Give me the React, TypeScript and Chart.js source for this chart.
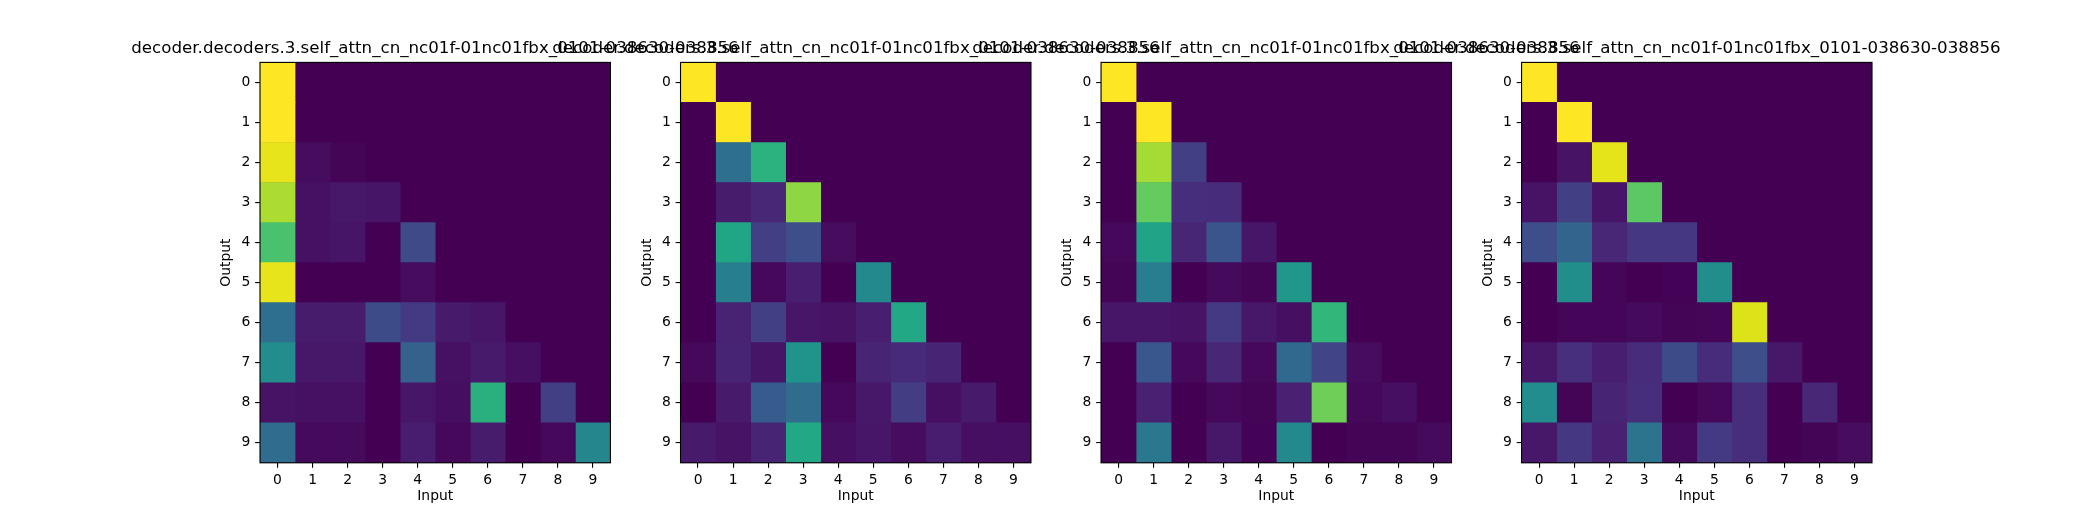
import React, { useEffect, useRef } from "react";
import { Chart, registerables } from "chart.js";

Chart.register(...registerables);

// ---------------- data ----------------
const inputLabels = ["0", "1", "2", "3", "4", "5", "6", "7", "8", "9"];
const outputLabels = ["0", "1", "2", "3", "4", "5", "6", "7", "8", "9"];
const panelTitle = "decoder.decoders.3.self_attn_cn_nc01f-01nc01fbx_0101-038630-038856";
const panelTitles = [panelTitle, panelTitle, panelTitle, panelTitle];

const attn0 = [
  [1.0, 0, 0, 0, 0, 0, 0, 0, 0, 0],
  [1.0, 0, 0, 0, 0, 0, 0, 0, 0, 0],
  [0.965, 0.03, 0.01, 0, 0, 0, 0, 0, 0, 0],
  [0.875, 0.045, 0.065, 0.055, 0, 0, 0, 0, 0, 0],
  [0.71, 0.045, 0.055, 0.0, 0.22, 0, 0, 0, 0, 0],
  [0.965, 0.0, 0.0, 0.0, 0.03, 0, 0, 0, 0, 0],
  [0.36, 0.075, 0.075, 0.225, 0.17, 0.07, 0.06, 0, 0, 0],
  [0.48, 0.065, 0.065, 0.0, 0.31, 0.045, 0.07, 0.04, 0, 0],
  [0.05, 0.045, 0.045, 0.0, 0.06, 0.035, 0.63, 0.0, 0.185, 0.0],
  [0.35, 0.025, 0.025, 0.0, 0.08, 0.02, 0.075, 0.0, 0.02, 0.46],
];
const attn1 = [
  [1.0, 0, 0, 0, 0, 0, 0, 0, 0, 0],
  [0, 1.0, 0, 0, 0, 0, 0, 0, 0, 0],
  [0, 0.36, 0.64, 0, 0, 0, 0, 0, 0, 0],
  [0, 0.075, 0.11, 0.83, 0, 0, 0, 0, 0, 0],
  [0, 0.59, 0.185, 0.24, 0.03, 0, 0, 0, 0, 0],
  [0, 0.43, 0.02, 0.085, 0.0, 0.47, 0, 0, 0, 0],
  [0, 0.095, 0.185, 0.06, 0.05, 0.085, 0.6, 0, 0, 0],
  [0.02, 0.1, 0.055, 0.51, 0.0, 0.1, 0.12, 0.1, 0, 0],
  [0.0, 0.07, 0.29, 0.35, 0.02, 0.065, 0.18, 0.04, 0.07, 0.0],
  [0.07, 0.05, 0.1, 0.6, 0.04, 0.06, 0.03, 0.08, 0.04, 0.04],
];
const attn2 = [
  [1.0, 0, 0, 0, 0, 0, 0, 0, 0, 0],
  [0, 1.0, 0, 0, 0, 0, 0, 0, 0, 0],
  [0, 0.865, 0.185, 0, 0, 0, 0, 0, 0, 0],
  [0, 0.76, 0.13, 0.125, 0, 0, 0, 0, 0, 0],
  [0.02, 0.58, 0.105, 0.26, 0.06, 0, 0, 0, 0, 0],
  [0.01, 0.42, 0.0, 0.025, 0.01, 0.53, 0, 0, 0, 0],
  [0.06, 0.06, 0.05, 0.17, 0.065, 0.04, 0.66, 0, 0, 0],
  [0.0, 0.27, 0.02, 0.11, 0.02, 0.34, 0.2, 0.03, 0, 0],
  [0.0, 0.09, 0.0, 0.02, 0.01, 0.09, 0.78, 0.02, 0.04, 0.0],
  [0.0, 0.4, 0.0, 0.065, 0.005, 0.47, 0.0, 0.01, 0.01, 0.025],
];
const attn3 = [
  [1.0, 0, 0, 0, 0, 0, 0, 0, 0, 0],
  [0, 1.0, 0, 0, 0, 0, 0, 0, 0, 0],
  [0, 0.05, 0.96, 0, 0, 0, 0, 0, 0, 0],
  [0.05, 0.185, 0.055, 0.745, 0, 0, 0, 0, 0, 0],
  [0.235, 0.32, 0.11, 0.16, 0.16, 0, 0, 0, 0, 0],
  [0.0, 0.49, 0.015, 0.0, 0.005, 0.49, 0, 0, 0, 0],
  [0.0, 0.015, 0.015, 0.025, 0.01, 0.015, 0.945, 0, 0, 0],
  [0.065, 0.135, 0.085, 0.125, 0.225, 0.125, 0.24, 0.065, 0, 0],
  [0.48, 0.01, 0.1, 0.13, 0.0, 0.02, 0.13, 0.0, 0.11, 0.0],
  [0.065, 0.16, 0.09, 0.38, 0.025, 0.17, 0.13, 0.0, 0.01, 0.03],
];
const panels = [attn0, attn1, attn2, attn3];

// ---------------- colormap (viridis) ----------------
const VIRIDIS = [
  "#440154", "#471365", "#482475", "#463480", "#414487", "#3b528b", "#355f8d",
  "#2f6c8e", "#2a788e", "#25848e", "#21918c", "#1e9c89", "#22a884", "#2fb47c",
  "#44bf70", "#5ec962", "#7ad151", "#9bd93c", "#bddf26", "#dfe318", "#fde725",
];
const hexToRgb = (h: string) => [
  parseInt(h.slice(1, 3), 16),
  parseInt(h.slice(3, 5), 16),
  parseInt(h.slice(5, 7), 16),
];
const VIR_RGB = VIRIDIS.map(hexToRgb);
function viridis(t: number): string {
  const c = Math.max(0, Math.min(1, t)) * (VIR_RGB.length - 1);
  const i = Math.min(Math.floor(c), VIR_RGB.length - 2);
  const f = c - i;
  const a = VIR_RGB[i];
  const b = VIR_RGB[i + 1];
  const m = (k: number) => Math.round(a[k] + (b[k] - a[k]) * f);
  return `rgb(${m(0)},${m(1)},${m(2)})`;
}

// ---------------- layout (matplotlib-like figure geometry) ----------------
const FIG_W = 2080;
const FIG_H = 520;
const PT = 100 / 72;
const AX_LEFT0 = FIG_W * 0.125;
const AX_RIGHT_END = FIG_W * 0.9;
const AX_W = (AX_RIGHT_END - AX_LEFT0) / (4 + 3 * 0.2);
const AX_STEP = AX_W * 1.2;
const AX_TOP = FIG_H * (1 - 0.88);
const AX_BOTTOM = FIG_H * (1 - 0.11);
const CANVAS_W = 640;
const LEFT_IN_CANVAS = 145;
const FONT = "'DejaVu Sans', 'Liberation Sans', sans-serif";
const TICK_FONT = 10 * PT;
const TITLE_FONT = 12 * PT;
const TICK_LEN = 3.5 * PT;
const TICK_PAD = 3.5 * PT;
const LINE_W = 0.8 * PT;

const framePlugin = {
  id: "frame",
  beforeDatasetsDraw(chart: any) {
    const { ctx, chartArea } = chart;
    ctx.save();
    ctx.fillStyle = viridis(0);
    ctx.fillRect(chartArea.left, chartArea.top, chartArea.right - chartArea.left, chartArea.bottom - chartArea.top);
    ctx.restore();
  },
  afterDraw(chart: any) {
    const { ctx, chartArea } = chart;
    ctx.save();
    ctx.strokeStyle = "#000";
    ctx.lineWidth = LINE_W;
    ctx.strokeRect(chartArea.left, chartArea.top, chartArea.right - chartArea.left, chartArea.bottom - chartArea.top);
    ctx.restore();
  },
};

function Heatmap({ matrix, title, index }: { matrix: number[][]; title: string; index: number }) {
  const ref = useRef<HTMLCanvasElement | null>(null);
  const axLeft = AX_LEFT0 + index * AX_STEP;
  const canvasLeft = Math.round(axLeft) - LEFT_IN_CANVAS;
  const yAxisWidth = axLeft - canvasLeft;
  const rightSpace = CANVAS_W - yAxisWidth - AX_W;

  useEffect(() => {
    if (!ref.current) return;
    const flat = matrix.flat();
    const vmin = Math.min(...flat);
    const vmax = Math.max(...flat);
    const norm = (v: number) => (v - vmin) / (vmax - vmin || 1);

    const datasets = inputLabels.map((_, j) => ({
      label: inputLabels[j],
      data: outputLabels.map(() => [j - 0.5, j + 0.5]),
      backgroundColor: outputLabels.map((_, i) => viridis(norm(matrix[i][j]))),
      borderWidth: 0,
      barPercentage: 1,
      categoryPercentage: 1,
      grouped: false,
    }));

    const tickCommon = {
      color: "#000",
      font: { family: FONT, size: TICK_FONT },
      padding: TICK_PAD,
      autoSkip: false,
      maxRotation: 0,
    };
    const gridCommon = {
      display: true,
      drawOnChartArea: false,
      drawTicks: true,
      tickLength: TICK_LEN,
      tickColor: "#000",
      tickWidth: LINE_W,
      lineWidth: LINE_W,
      color: "#000",
    };

    const chart = new Chart(ref.current, {
      type: "bar",
      data: { labels: outputLabels, datasets: datasets as any },
      options: {
        indexAxis: "y",
        animation: false,
        responsive: false,
        events: [],
        layout: { padding: 0 },
        plugins: {
          legend: { display: false },
          tooltip: { enabled: false },
          title: {
            display: true,
            fullSize: true,
            text: title,
            color: "#000",
            font: { family: FONT, size: TITLE_FONT, weight: "normal", lineHeight: 1.2 },
            padding: { top: 38.8, bottom: AX_TOP - 38.8 - TITLE_FONT * 1.2 },
          },
        },
        scales: {
          x: {
            type: "linear",
            min: -0.5,
            max: 9.5,
            afterBuildTicks: (scale: any) => {
              scale.ticks = inputLabels.map((_, k) => ({ value: k }));
            },
            afterFit: (scale: any) => {
              scale.height = FIG_H - AX_BOTTOM;
            },
            ticks: { ...tickCommon, callback: (v: any) => inputLabels[Math.round(Number(v))] },
            grid: gridCommon,
            border: { display: false },
            title: {
              display: true,
              text: "Input",
              color: "#000",
              font: { family: FONT, size: TICK_FONT, lineHeight: 1.2 },
              padding: { top: 0, bottom: 15.2 },
            },
          },
          y: {
            type: "category",
            offset: true,
            afterFit: (scale: any) => {
              scale.width = yAxisWidth;
            },
            ticks: tickCommon,
            grid: { ...gridCommon, offset: false },
            border: { display: false },
            title: {
              display: true,
              text: "Output",
              color: "#000",
              font: { family: FONT, size: TICK_FONT, lineHeight: 1.2 },
              padding: { top: yAxisWidth - 33.4 - (TICK_FONT * 1.2) / 2, bottom: 0 },
            },
          },
          ySpacer: {
            type: "category",
            position: "right",
            display: true,
            afterFit: (scale: any) => {
              scale.width = rightSpace;
            },
            ticks: { display: false },
            grid: { display: false, drawTicks: false },
            border: { display: false },
            title: { display: false },
          },
        },
      } as any,
      plugins: [framePlugin],
    });
    return () => chart.destroy();
  }, [matrix, title, index]);

  return (
    <canvas
      ref={ref}
      width={CANVAS_W}
      height={FIG_H}
      style={{ position: "absolute", left: canvasLeft, top: 0, width: CANVAS_W, height: FIG_H }}
    />
  );
}

export default function App() {
  return (
    <div
      style={{
        position: "absolute",
        left: 0,
        top: 0,
        width: FIG_W,
        height: FIG_H,
        background: "#fff",
        overflow: "hidden",
      }}
    >
      {panels.map((m, k) => (
        <Heatmap key={k} matrix={m} title={panelTitles[k]} index={k} />
      ))}
    </div>
  );
}
